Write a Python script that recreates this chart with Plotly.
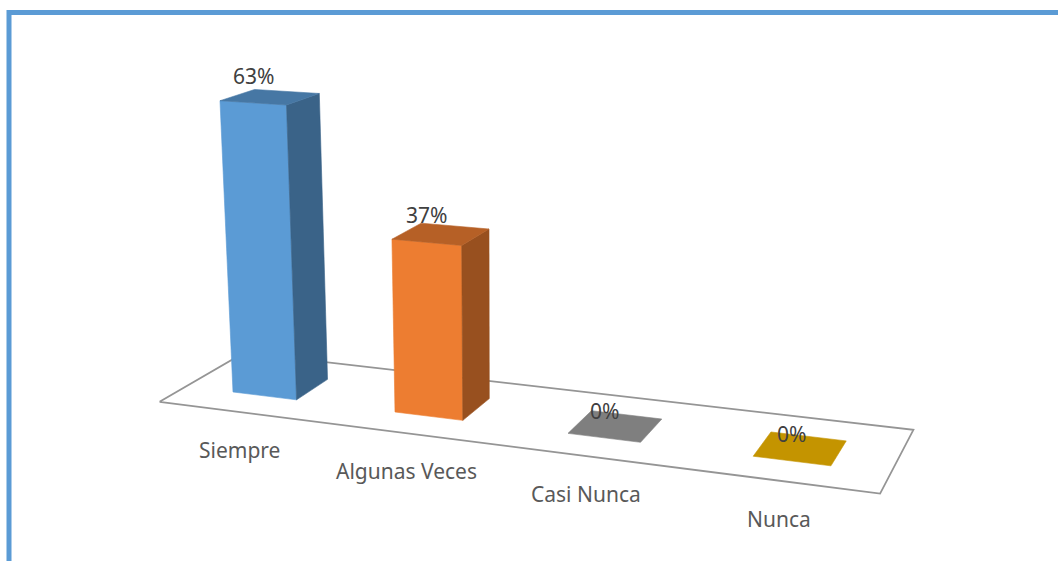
import plotly.graph_objects as go

# Survey answers and their share of responses (%)
categories = ["Siempre", "Algunas Veces", "Casi Nunca", "Nunca"]
percentages = [63, 37, 0, 0]
value_labels = ["63%", "37%", "0%", "0%"]
bar_colors = ["#5B9BD5", "#ED7D31", "#A5A5A5", "#FFC000"]

# Perspective camera for the 3D column look.
# World coordinates: x = category position, d = depth (front < 0 < back), h = value (%)
# Rows give screen u, screen v and the homogeneous divisor.
CAMERA = [
    [147.96, 40.89, -0.3649, 280.73],
    [6.832, -7.723, -4.651, 385.62],
    [-0.03149, 0.03238, -0.0007297, 1.0],
]
BAR_HALF_WIDTH = 0.2      # gap width 150 %
BAR_HALF_DEPTH = 0.5
FLOOR_HALF_DEPTH = 1.25   # gap depth 150 %


def project(x, d, h):
    p = [row[0] * x + row[1] * d + row[2] * h + row[3] for row in CAMERA]
    return p[0] / p[2], p[1] / p[2]


def shade(hex_color, factor):
    r, g, b = (int(hex_color[i:i + 2], 16) for i in (1, 3, 5))
    return "#{:02X}{:02X}{:02X}".format(*(round(c * factor) for c in (r, g, b)))


def face(points, fill, line_color=None, line_width=0.6):
    pts = [project(*p) for p in points]
    xs = [p[0] for p in pts] + [pts[0][0]]
    ys = [p[1] for p in pts] + [pts[0][1]]
    return go.Scatter(
        x=xs, y=ys, mode="lines", fill="toself", fillcolor=fill,
        line=dict(color=line_color or fill, width=line_width),
        hoverinfo="skip", showlegend=False,
    )


fig = go.Figure()

# Floor of the plot area
x_lo, x_hi = -0.5, len(categories) - 0.5
fig.add_trace(face(
    [(x_lo, -FLOOR_HALF_DEPTH, 0), (x_hi, -FLOOR_HALF_DEPTH, 0),
     (x_hi, FLOOR_HALF_DEPTH, 0), (x_lo, FLOOR_HALF_DEPTH, 0)],
    "#FFFFFF", line_color="#959595", line_width=1.8,
))

# Columns: front, right side and top faces
for k, (value, color) in enumerate(zip(percentages, bar_colors)):
    x0, x1 = k - BAR_HALF_WIDTH, k + BAR_HALF_WIDTH
    d0, d1 = -BAR_HALF_DEPTH, BAR_HALF_DEPTH
    if value > 0:
        fig.add_trace(face([(x0, d0, 0), (x1, d0, 0), (x1, d0, value), (x0, d0, value)],
                           color))
        fig.add_trace(face([(x1, d0, 0), (x1, d1, 0), (x1, d1, value), (x1, d0, value)],
                           shade(color, 0.64)))
    fig.add_trace(face([(x0, d0, value), (x1, d0, value), (x1, d1, value), (x0, d1, value)],
                       shade(color, 0.77)))

annotations = []
# Data labels above each column
for k, (value, text) in enumerate(zip(percentages, value_labels)):
    u, v = project(k, -BAR_HALF_DEPTH, value)
    annotations.append(dict(
        x=u, y=v, text=text, showarrow=False, yshift=27,
        xanchor="center", yanchor="middle",
        font=dict(family="Noto Sans", size=21, color="#404040"),
    ))
# Category labels along the front edge of the floor
for k, name in enumerate(categories):
    u, v = project(k, -FLOOR_HALF_DEPTH, 0)
    annotations.append(dict(
        x=u, y=v, text=name, showarrow=False, yshift=-38,
        xanchor="center", yanchor="middle",
        font=dict(family="Noto Sans", size=21, color="#595959"),
    ))

W, H = 1058, 561
fig.update_layout(
    width=W, height=H,
    margin=dict(l=0, r=0, t=0, b=0),
    paper_bgcolor="#FFFFFF", plot_bgcolor="#FFFFFF",
    xaxis=dict(range=[0, W], visible=False, fixedrange=True),
    yaxis=dict(range=[H, 0], visible=False, fixedrange=True),
    annotations=annotations,
    shapes=[dict(
        type="rect", xref="x", yref="y", x0=9, y0=12.5, x1=W + 20, y1=H + 20,
        line=dict(color="#5B9BD5", width=5), fillcolor="rgba(0,0,0,0)", layer="above",
    )],
    showlegend=False,
)

fig.write_html("out.html")
